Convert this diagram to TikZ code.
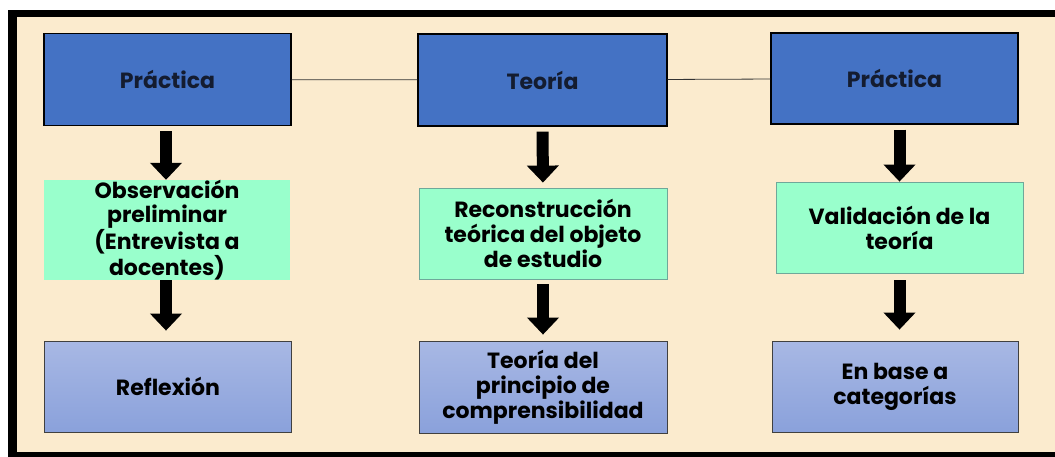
\documentclass[tikz,border=0pt]{standalone}
\usepackage{fontspec}
\setmainfont{Poppins}
\usetikzlibrary{arrows.meta}

\definecolor{fondo}{HTML}{FBEBCE}
\definecolor{azul}{HTML}{4472C4}
\definecolor{verde}{HTML}{99FFCC}
\definecolor{bordeverde}{HTML}{6FA89A}
\definecolor{lilaclaro}{HTML}{A8B8E4}
\definecolor{lilaoscuro}{HTML}{8AA1DB}
\definecolor{textoazul}{HTML}{141C30}

\tikzset{
    letra/.style={font=\bfseries\fontsize{22}{25}\selectfont, align=center},
    cajaazul/.style={letra, draw=black, line width=1.3pt, fill=azul, text=textoazul,
        minimum width=247pt, minimum height=92pt},
    cajaverde/.style={letra, draw=bordeverde, line width=0.8pt, fill=verde,
        minimum width=247pt, minimum height=91pt},
    cajalila/.style={letra, draw=black!75, line width=0.8pt, top color=lilaclaro,
        bottom color=lilaoscuro, minimum width=247pt, minimum height=91pt},
    flecha/.style={line width=12pt, -{Triangle[width=31pt, length=17pt]},
        shorten <=5pt},
    enlace/.style={draw=black!80, line width=0.8pt}
}

\begin{document}
\begin{tikzpicture}[x=1pt, y=-1pt]
    % 边框与背景
    \useasboundingbox (0,0) rectangle (1055,457);
    \fill[black] (8,10) rectangle (1055,457);
    \fill[fondo] (17,17) rectangle (1055,452);

    % 第一行: 蓝色方框
    \node[cajaazul] (practica1) at (167.5,79.5) {Práctica};
    \node[cajaazul, minimum width=249pt] (teoria) at (542.5,80) {Teoría};
    \node[cajaazul, minimum height=91pt] (practica2) at (894.5,78.5) {Práctica};

    % 方框之间的连线
    \draw[enlace] (practica1) -- (teoria);
    \draw[enlace] (teoria) -- (practica2);

    % 第二行: 绿色方框
    \node[cajaverde, draw=verde, font=\bfseries\fontsize{22}{24}\selectfont, inner ysep=0pt,
        minimum width=245pt, minimum height=96pt] (observacion) at (167,230)
        {Observación\\preliminar\\(Entrevista a\\docentes)};
    \node[cajaverde, minimum width=248pt] (reconstruccion) at (543,233.5)
        {Reconstrucción\\teórica del objeto\\de estudio};
    \node[cajaverde] (validacion) at (899.5,227.5) {Validación de la\\teoría};

    % 第三行: 渐变方框
    \node[cajalila] (reflexion) at (168,386.5) {Reflexión};
    \node[cajalila, minimum width=248pt, minimum height=92pt] (principio) at (543,387)
        {Teoría del\\principio de\\comprensibilidad};
    \node[cajalila, minimum width=246pt] (categorias) at (895,386.5)
        {En base a\\categorías};

    % 粗箭头
    \draw[flecha] (practica1.south -| 166,0) -- (observacion.north -| 166,0);
    \draw[flecha, shorten >=5pt] (teoria.south) -- (reconstruccion.north);
    \draw[flecha] (practica2.south -| validacion.north) -- (validacion.north);
    \draw[flecha, shorten <=0pt, shorten >=10pt] (observacion.south -| 166,0) -- (reflexion.north -| 166,0);
    \draw[flecha, shorten >=6pt] (reconstruccion.south) -- (principio.north);
    \draw[flecha, shorten <=7pt, shorten >=11pt] (validacion.south) -- (categorias.north -| validacion.south);
\end{tikzpicture}
\end{document}
